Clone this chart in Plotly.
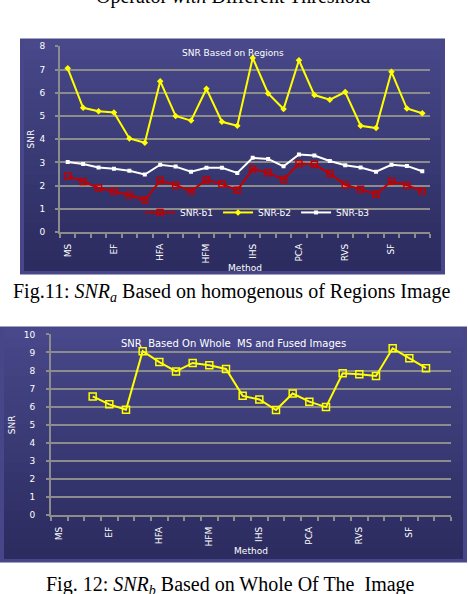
import plotly.graph_objects as go

# ---- data ----
tick_labels = ["MS", "EF", "HFA", "HFM", "IHS", "PCA", "RVS", "SF"]
n_cat = 24
positions = list(range(n_cat))

snr_b1 = [2.42, 2.18, 1.90, 1.76, 1.60, 1.38, 2.22, 2.02, 1.76, 2.25, 2.07, 1.80,
          2.72, 2.56, 2.26, 2.95, 2.92, 2.52, 2.04, 1.84, 1.63, 2.19, 2.02, 1.76]
snr_b2 = [7.05, 5.35, 5.20, 5.15, 4.03, 3.85, 6.50, 5.00, 4.80, 6.17, 4.75, 4.58,
          7.50, 5.97, 5.30, 7.40, 5.90, 5.70, 6.03, 4.58, 4.48, 6.90, 5.32, 5.12]
snr_b3 = [3.02, 2.93, 2.78, 2.73, 2.64, 2.48, 2.90, 2.82, 2.60, 2.77, 2.77, 2.55,
          3.20, 3.15, 2.83, 3.34, 3.30, 3.06, 2.88, 2.78, 2.60, 2.90, 2.85, 2.62]

snr_whole = [None, None, 6.57, 6.13, 5.83, 9.07, 8.47, 7.95, 8.42, 8.29, 8.09, 6.60,
             6.40, 5.82, 6.73, 6.28, 5.98, 7.85, 7.80, 7.70, 9.23, 8.68, 8.13, None]

W, H = 468, 594


def px(x):
    return x / W


def py(y):
    return 1 - y / H


fig = go.Figure()

# panel backgrounds (vertical gradient made of bands)
def panel(x0, y0, x1, y1):
    fig.add_shape(type="rect", xref="paper", yref="paper",
                  x0=px(x0), x1=px(x1), y0=py(y1), y1=py(y0),
                  fillcolor="#464688", line_width=0, layer="below")
    top = (0x48, 0x48, 0x8a)
    bot = (0x2c, 0x2c, 0x60)
    n = 24
    ix0, iy0, ix1, iy1 = x0 + 4, y0 + 2, x1 - 4, y1 - 4
    h = (iy1 - iy0) / n
    for i in range(n):
        t = i / (n - 1)
        c = tuple(int(top[k] + (bot[k] - top[k]) * t) for k in range(3))
        fig.add_shape(type="rect", xref="paper", yref="paper",
                      x0=px(ix0), x1=px(ix1),
                      y0=py(iy0 + (i + 1) * h + 0.5), y1=py(iy0 + i * h),
                      fillcolor="rgb(%d,%d,%d)" % c, line_width=0, layer="below")


panel(20, 34, 445, 274)
panel(0, 327, 467, 567)

# ---- chart 1 ----
fig.add_trace(go.Scatter(x=positions, y=snr_b1, name="SNR-b1", mode="lines+markers",
                         line=dict(color="#c00000", width=2),
                         marker=dict(symbol="square-open", size=6, color="#c00000",
                                     line=dict(width=1.5)),
                         xaxis="x", yaxis="y"))
fig.add_trace(go.Scatter(x=positions, y=snr_b2, name="SNR-b2", mode="lines+markers",
                         line=dict(color="#ffff00", width=2),
                         marker=dict(symbol="diamond", size=5, color="#ffff00"),
                         xaxis="x", yaxis="y"))
fig.add_trace(go.Scatter(x=positions, y=snr_b3, name="SNR-b3", mode="lines+markers",
                         line=dict(color="#ffffff", width=2),
                         marker=dict(symbol="square", size=4, color="#ffffff"),
                         xaxis="x", yaxis="y"))

# ---- chart 2 ----
fig.add_trace(go.Scatter(x=positions, y=snr_whole, mode="lines+markers", showlegend=False,
                         line=dict(color="#ffff00", width=2),
                         marker=dict(symbol="square-open", size=7, color="#ffff00",
                                     line=dict(width=1.5)),
                         xaxis="x2", yaxis="y2"))

tick_font = dict(family="DejaVu Sans", size=9, color="#ffffff")
grid_col = "#8c8c8c"


def xaxis_cfg(domain, anchor):
    return dict(domain=domain, anchor=anchor, range=[-0.5, n_cat - 0.5],
                tickvals=positions[::3], ticktext=tick_labels, tickangle=-90,
                ticks="", showgrid=False, zeroline=False,
                showline=True, linecolor=grid_col, linewidth=2,
                tickfont=tick_font, ticklabelstandoff=6,
                minor=dict(ticks="outside", tick0=-0.5, dtick=1, ticklen=4,
                           tickcolor=grid_col, tickwidth=2, showgrid=False),
                title=dict(text="Method", font=dict(family="DejaVu Sans", size=9,
                                                    color="#ffffff"), standoff=2))


def yaxis_cfg(domain, anchor, top, pad, tpad):
    return dict(domain=domain, anchor=anchor, range=[0, top], dtick=1,
                showgrid=True, gridcolor=grid_col, gridwidth=2, zeroline=False,
                showline=True, linecolor=grid_col, linewidth=2,
                ticks="outside", ticklen=3, tickcolor=grid_col, tickwidth=2,
                tickfont=tick_font, ticklabelstandoff=pad,
                title=dict(text="SNR", font=dict(family="DejaVu Sans", size=9,
                                                 color="#ffffff"), standoff=tpad))


fig.update_layout(
    width=W, height=H,
    margin=dict(l=0, r=0, t=0, b=0),
    paper_bgcolor="#ffffff", plot_bgcolor="rgba(0,0,0,0)",
    xaxis=xaxis_cfg([px(60), px(430)], "y"),
    yaxis=yaxis_cfg([py(231), py(42)], "x", 8, 8, 3),
    xaxis2=xaxis_cfg([px(51), px(451)], "y2"),
    yaxis2=yaxis_cfg([py(519), py(335)], "x2", 10, 9, 7),
    showlegend=True,
    legend=dict(orientation="h", x=px(140), y=py(211), xanchor="left", yanchor="middle",
                bgcolor="rgba(0,0,0,0)", font=dict(family="DejaVu Sans", size=9,
                                                   color="#ffffff"),
                itemwidth=30),
)

serif = dict(family="Liberation Serif", size=20, color="#000000")
fig.add_annotation(text="Operator <i>with</i> Different Threshold", xref="paper", yref="paper",
                   x=px(233), y=1, yshift=9, xanchor="center", yanchor="middle",
                   showarrow=False, font=serif)
fig.add_annotation(text="SNR Based on Regions", xref="paper", yref="paper",
                   x=px(233), y=py(49), xanchor="center", yanchor="middle",
                   showarrow=False, font=dict(family="DejaVu Sans", size=9, color="#ffffff"))
fig.add_annotation(text="SNR  Based On Whole  MS and Fused Images", xref="paper", yref="paper",
                   x=px(233), y=py(344), xanchor="center", yanchor="middle",
                   showarrow=False, font=dict(family="DejaVu Sans", size=10, color="#ffffff"))
fig.add_annotation(text="Fig.11: <i>SNR</i><sub><i>a</i></sub> Based on homogenous of Regions Image",
                   xref="paper", yref="paper", x=px(231), y=py(292),
                   xanchor="center", yanchor="middle", showarrow=False, font=serif)
fig.add_annotation(text="Fig. 12: <i>SNR</i><sub><i>b</i></sub> Based on Whole Of The  Image",
                   xref="paper", yref="paper", x=px(230), y=py(590),
                   xanchor="center", yanchor="middle", showarrow=False, font=serif)

# the page body has a default 8px margin; drop it so the figure sits at the corner
fig.write_html("out.html", config={"displayModeBar": False},
               post_script="document.body.style.margin='0px';")
